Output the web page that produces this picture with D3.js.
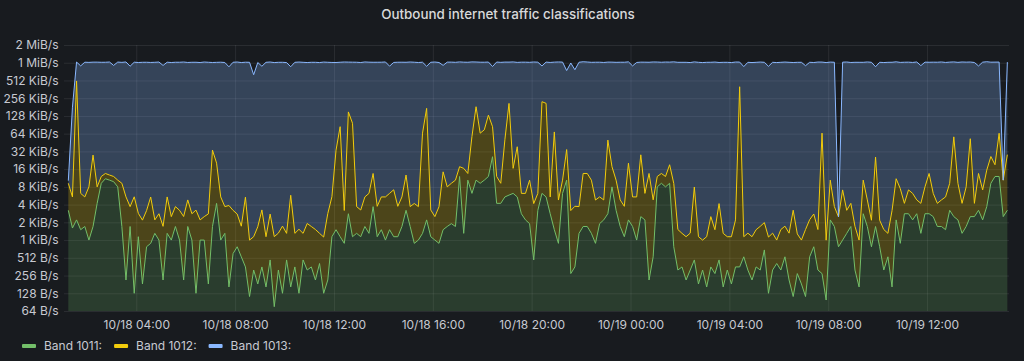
<!DOCTYPE html>
<html><head><meta charset="utf-8">
<script src="https://cdn.jsdelivr.net/npm/d3@7"></script>
<style>
html,body{margin:0;padding:0;background:#181b1f;overflow:hidden;}
svg{display:block;font-family:Inter,"Noto Sans",sans-serif;}
</style></head><body>
<svg id="chart" width="1024" height="361"></svg>
<script>
// ---- data (values in KiB/s, per band, stacked in the chart) ----
const chartTitle = "Outbound internet traffic classifications";
const startTime = Date.UTC(2021, 9, 18, 1, 15);
const stepMinutes = 10;
const seriesNames = ["Band 1011:", "Band 1012:", "Band 1013:"];

const band1011 = [
3.2,1.6,2.2,1.5,1.7,1,1.7,4.2,9.2,11,
10.4,9.8,8,1.7,0.21,1.7,0.125,1.14,0.18,0.77,
0.88,1.3,1,0.21,1.3,1,1.7,1,0.21,1.7,
1,0.125,1,1,0.18,1.7,4.2,1,1.3,0.16,
0.59,0.77,0.52,0.35,0.11,0.31,0.18,0.35,0.16,0.46,
0.074,0.31,0.125,0.46,0.16,0.35,0.125,0.46,0.31,0.35,
0.21,0.4,0.125,0.21,1.14,1.5,1.14,0.88,2.8,1.14,
1.3,1.14,1.7,1.3,3.7,1.14,1.5,1,1.5,1.14,
1.14,1.7,3.2,1.7,0.88,1,1.3,2.2,1.14,1,
0.88,1.5,1.7,1.9,1.7,12,1.3,10.4,6.2,10.4,
9.2,10.4,12,26,4.2,4.2,5.4,5.8,6.2,5.4,
2.8,2.2,1.9,0.46,3.2,6.2,5.4,2.8,1.5,0.88,
6.2,10.4,0.27,0.35,1.3,1.7,1.7,1.3,0.88,1.9,
2.2,2.8,8,3.2,1.7,1.14,2.2,1.7,1,2.5,
2.2,0.21,0.52,8,9.2,8,9.2,0.77,0.31,0.35,
0.21,0.31,0.46,0.18,0.31,0.16,0.35,0.27,0.46,0.16,
0.31,0.18,0.35,0.35,0.52,0.31,0.21,0.35,0.31,0.68,
0.125,0.31,0.4,0.31,0.52,0.21,0.11,0.27,0.18,0.11,
0.52,0.77,0.31,0.27,0.096,2.2,1.7,0.77,1,1.3,
1.7,0.31,0.16,2.8,1.7,0.77,1.7,0.77,0.31,0.52,
0.16,2.2,0.88,2.8,2.8,2.2,2.8,1.3,2.8,2.8,
2.5,1.7,1.7,1.5,3.2,2.5,2.2,1.3,1.7,2.5,
2.5,3.2,2.2,3.7,9.2,12,12,2.5,3.2
];

const band1012 = [
6,3.8,500,4.7,3.7,7,26,3.8,2.8,2.5,
2.3,2.2,2.4,7.5,5.2,2,5.3,1.7,2,2.4,
4.5,0.9,1.8,1.5,4.1,1.5,2,2.2,2.3,3.1,
1.8,3.1,1.2,1.5,2.6,32,16,4.4,2.4,3.7,
2.6,2,1.2,5,0.89,0.83,1.5,2.9,0.98,2.3,
1.07,1,1.6,0.84,5.6,0.95,1.4,0.84,1.6,1.35,
1.3,0.9,1,2.6,4.3,32,83,2.3,147,95,
2.4,2.1,3.7,4.9,9.8,2.6,3.9,4.4,4.7,6,
2.6,3.7,9.5,2,3.3,2.7,64,170,2.1,1.5,
2.8,12.9,6.3,7.3,8.7,5.6,15.2,3.1,51,173,
56,64,120,58,7.8,5,45,203,10.3,33,
3.4,4,8.5,3.7,3,217,204,2.6,67,3.9,
4.2,24,2.9,3.4,2.4,11.8,11.8,9.1,3.9,3.5,
2.6,47,9.6,7.2,3.1,2.6,18,3.7,4.4,25.5,
4,13.3,4.3,4,4.3,4,9.8,8.4,1.2,0.95,
0.93,1,7.5,0.96,0.69,0.98,2.15,1.23,3.7,1.14,
0.83,0.96,1.85,400,0.62,1,0.93,1.15,1.4,1.3,
1,1,0.6,1.2,1.2,1.1,3.1,1,0.82,1.4,
1.7,2,1.2,65,0.9,8.2,2,1.7,6.1,1.9,
2.5,1.4,0.84,7.6,3.1,1.4,24,1.4,1.2,0.78,
3,8.8,6.6,1.4,4.3,4,2,2.9,5.2,10.7,
3.7,2.5,3.1,3.9,6,54,7,2.9,6.3,50,
1.7,10.3,4.9,11.7,17,7,53,7.9,25
];

const band1013 = [
1,175,550,900,1040,1030,1020,1040,1030,1030,1040,910,1040,1030,1050,890,1040,1030,1040,1040,
1030,1040,1050,920,1040,1030,1040,1040,1050,1030,1040,1040,1030,1050,1040,1000,1020,1040,1030,870,
1040,1050,1030,1040,1040,640,1030,890,1040,1050,1030,1040,1040,1030,870,1040,1050,1040,1030,1040,
1040,1030,1050,1040,1030,1000,960,1050,900,950,1040,1030,1050,1040,1030,1040,1040,1050,890,1030,
1040,1040,1030,1050,1040,1030,980,720,1040,1050,1030,910,1040,1040,1030,1040,1030,1030,1000,870,
980,970,920,800,1040,1030,1000,840,1040,1000,1040,1040,1030,1050,1040,680,840,1030,980,1050,
1040,720,1010,775,1040,1050,1040,1030,1040,1040,1030,1000,1030,1030,1040,1040,1040,900,1030,1020,
1040,1030,1050,1040,1030,1040,1030,1050,1040,1040,1040,1030,1050,1040,1030,1040,1040,1050,1030,1040,
1040,1030,1050,650,880,1040,1030,1040,1050,1040,890,1040,1030,1040,1050,1040,1030,1040,1040,910,
1040,1030,1050,985,1030,1040,1040,0,1040,1050,1030,1040,1040,1030,1050,1040,850,1040,1030,1040,
1040,1050,1030,1040,1040,1030,1050,910,1040,1030,1040,1040,1050,1030,1040,1000,1030,1050,1040,1000,
1030,890,1040,1050,1020,1030,985,0,1020
];

const yTickValues = [0.0625,0.125,0.25,0.5,1,2,4,8,16,32,64,128,256,512,1024,2048];
const yTickLabels = ["64 B/s","128 B/s","256 B/s","512 B/s","1 KiB/s","2 KiB/s","4 KiB/s","8 KiB/s",
  "16 KiB/s","32 KiB/s","64 KiB/s","128 KiB/s","256 KiB/s","512 KiB/s","1 MiB/s","2 MiB/s"];
const xTickTimes = [
  Date.UTC(2021,9,18,4), Date.UTC(2021,9,18,8), Date.UTC(2021,9,18,12), Date.UTC(2021,9,18,16),
  Date.UTC(2021,9,18,20), Date.UTC(2021,9,19,0), Date.UTC(2021,9,19,4), Date.UTC(2021,9,19,8),
  Date.UTC(2021,9,19,12)];
const xTickLabels = ["10/18 04:00","10/18 08:00","10/18 12:00","10/18 16:00","10/18 20:00",
  "10/19 00:00","10/19 04:00","10/19 08:00","10/19 12:00"];
const domainStart = Date.UTC(2021,9,18,1,4,30);
const domainEnd = Date.UTC(2021,9,19,15,19,0);

// ---- layout / style ----
const W = 1024, H = 361;
const plot = {left: 64, right: 1009, top: 45, bottom: 311};
const colors = ["#73BF69", "#F2CC0C", "#8AB8FF"];
const fillOpacity = [0.21, 0.24, 0.26];
const textColor = "#c7c9d1";
const gridColor = "rgba(204,204,220,0.10)";

const svg = d3.select("#chart");
svg.append("rect").attr("width", W).attr("height", H).attr("fill", "#181b1f");

const rows = band1011.map((v, i) => ({
  t: new Date(startTime + i * stepMinutes * 60000),
  b0: v, b1: band1012[i], b2: band1013[i]
}));

const x = d3.scaleUtc().domain([new Date(domainStart), new Date(domainEnd)]).range([plot.left, plot.right]);
const y = d3.scaleLog().base(2).domain([yTickValues[0], yTickValues[yTickValues.length-1]])
  .range([plot.bottom, plot.top]).clamp(true);
const yPos = v => v <= 0 ? plot.bottom : y(v);

// grid
const gy = svg.append("g").attr("transform", `translate(${plot.left},0)`)
  .call(d3.axisLeft(y).tickValues(yTickValues).tickSize(-(plot.right - plot.left)).tickFormat(""));
const gx = svg.append("g").attr("transform", `translate(0,${plot.bottom})`)
  .call(d3.axisBottom(x).tickValues(xTickTimes.map(t => new Date(t))).tickSize(-(plot.bottom - plot.top)).tickFormat(""));
[gy, gx].forEach(g => {
  g.select(".domain").remove();
  g.selectAll("line").attr("stroke", gridColor).attr("stroke-width", 1);
});

// stacked series
const stack = d3.stack().keys(["b0", "b1", "b2"]);
const layers = stack(rows);

const area = d3.area()
  .x(d => x(d.data.t))
  .y0(d => yPos(d[0]))
  .y1(d => yPos(d[1]));
const line = d3.line()
  .x(d => x(d.data.t))
  .y(d => yPos(d[1]));

svg.append("g").selectAll("path").data(layers).join("path")
  .attr("d", area)
  .attr("fill", (d, i) => colors[i])
  .attr("fill-opacity", (d, i) => fillOpacity[i]);

svg.append("g").selectAll("path").data(layers).join("path")
  .attr("d", line)
  .attr("fill", "none")
  .attr("stroke", (d, i) => colors[i])
  .attr("stroke-width", 1)
  .attr("stroke-linejoin", "round");

// axes labels
const ay = svg.append("g").attr("transform", `translate(${plot.left},0)`)
  .call(d3.axisLeft(y).tickValues(yTickValues).tickSize(0).tickPadding(5.5)
    .tickFormat((d, i) => yTickLabels[i]));
const ax = svg.append("g").attr("transform", `translate(0,${plot.bottom})`)
  .call(d3.axisBottom(x).tickValues(xTickTimes.map(t => new Date(t))).tickSize(0).tickPadding(9)
    .tickFormat((d, i) => xTickLabels[i]));
[ay, ax].forEach(g => {
  g.select(".domain").remove();
  g.selectAll("text").attr("fill", textColor).attr("font-size", 12)
    .attr("font-family", 'Inter,"Noto Sans",sans-serif');
});

// title
svg.append("text").attr("x", 508).attr("y", 19).attr("text-anchor", "middle")
  .attr("fill", "#d8d9da").attr("font-size", 13.4).attr("font-weight", 500)
  .text(chartTitle);

// legend
const lg = svg.append("g");
let lx = 22;
seriesNames.forEach((name, i) => {
  lg.append("rect").attr("x", lx).attr("y", 344).attr("width", 14).attr("height", 4)
    .attr("rx", 1).attr("fill", colors[i]);
  const t = lg.append("text").attr("x", lx + 22).attr("y", 350)
    .attr("fill", textColor).attr("font-size", 12).text(name);
  lx = lx + 22 + t.node().getComputedTextLength() + 12;
});
</script>
</body></html>
